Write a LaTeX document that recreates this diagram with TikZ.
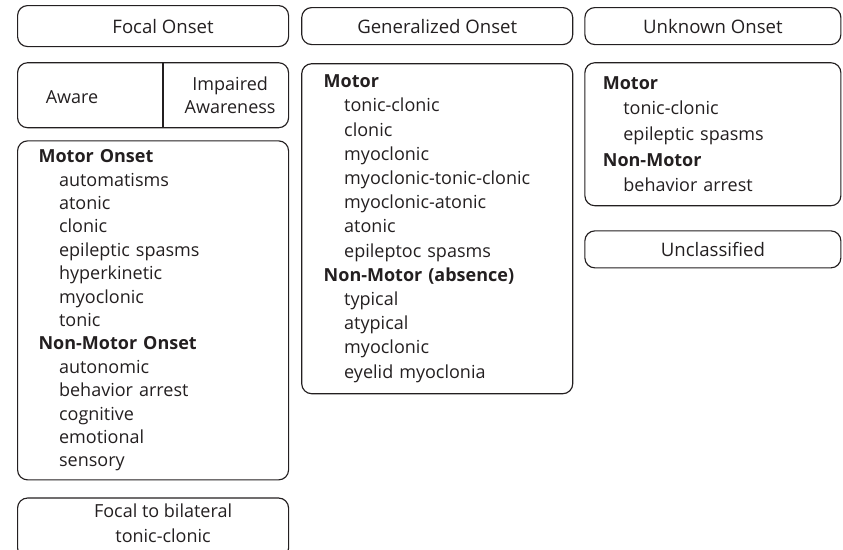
\documentclass[tikz,border=0pt]{standalone}
\usepackage{fontspec}
\setmainfont{Open Sans}
\usetikzlibrary{positioning}
\definecolor{ink}{HTML}{231F20}
\newcommand{\itm}{\hspace*{20.5pt}}
\tikzset{
  hbox/.style={draw=ink, text=ink, rectangle, rounded corners=10pt, align=center, minimum width=271pt, minimum height=37pt, inner sep=0pt, line width=1.15pt, font=\fontsize{18.6}{23.5}\selectfont},
  lbox/.style={draw=ink, text=ink, rectangle, rounded corners=10pt, align=left, minimum width=271pt, inner xsep=21pt, inner ysep=0pt, line width=1.15pt},
  txt/.style={text=ink, align=center, inner sep=0pt, font=\fontsize{18}{23.5}\selectfont},
}

\begin{document}
\begin{tikzpicture}
\useasboundingbox (0pt,0pt) rectangle (843pt,-549pt);
% top row
\node[hbox, anchor=north west, minimum height=41pt] (focal) at (17pt,-5pt) {\hspace*{20pt}Focal Onset};
\node[hbox, right=12pt of focal] (gen) {Generalized Onset};
\node[hbox, right=11pt of gen, minimum width=256pt] (unk) {Unknown Onset};
% focal column
\node[hbox, below=15pt of focal, minimum height=65pt] (awbox) {};
\node[txt] (aware) at ([xshift=55pt, yshift=-2pt]awbox.west) {Aware};
\node[txt] (impaired) at ([xshift=-59pt]awbox.east) {Impaired\\Awareness};
\draw[ink, line width=1.15pt] ([xshift=146pt]awbox.north west) -- ([xshift=146pt]awbox.south west);
\node[lbox, below=12pt of awbox, text width=229pt, minimum height=339pt, font=\fontsize{18}{23.4}\selectfont] (focmot) {%
  \textbf{Motor Onset}\\
  \itm automatisms\\
  \itm atonic\\
  \itm clonic\\
  \itm epileptic spasms\\
  \itm hyperkinetic\\
  \itm myoclonic\\
  \itm tonic\\
  \textbf{Non-Motor Onset}\\
  \itm autonomic\\
  \itm behavior arrest\\
  \itm cognitive\\
  \itm emotional\\
  \itm sensory};
\node[hbox, below=17pt of focmot, minimum height=60pt] (bilat) {};
\node[txt, anchor=north, font=\fontsize{18}{25}\selectfont] (bilattxt) at ([xshift=10pt, yshift=-6pt]bilat.north) {Focal to bilateral\\tonic-clonic};
% generalized column
\node[lbox, below=18pt of gen, inner xsep=22pt, text width=227pt, minimum height=330pt, font=\fontsize{18}{24.2}\selectfont] (genlist) {%
  \textbf{Motor}\\
  \itm tonic-clonic\\
  \itm clonic\\
  \itm myoclonic\\
  \itm myoclonic-tonic-clonic\\
  \itm myoclonic-atonic\\
  \itm atonic\\
  \itm epileptoc spasms\\
  \textbf{Non-Motor (absence)}\\
  \itm typical\\
  \itm atypical\\
  \itm myoclonic\\
  \itm eyelid myoclonia};
% unknown column
\node[lbox, below=17pt of unk, minimum width=256pt, inner xsep=18pt, text width=220pt, minimum height=143pt, font=\fontsize{18}{25.7}\selectfont] (unklist) {%
  \textbf{Motor}\\
  \itm tonic-clonic\\
  \itm epileptic spasms\\
  \textbf{Non-Motor}\\
  \itm behavior arrest\\[-4pt]};
\node[hbox, below=24pt of unklist, minimum width=256pt] (uncl) {Unclassified};
\end{tikzpicture}
\end{document}
